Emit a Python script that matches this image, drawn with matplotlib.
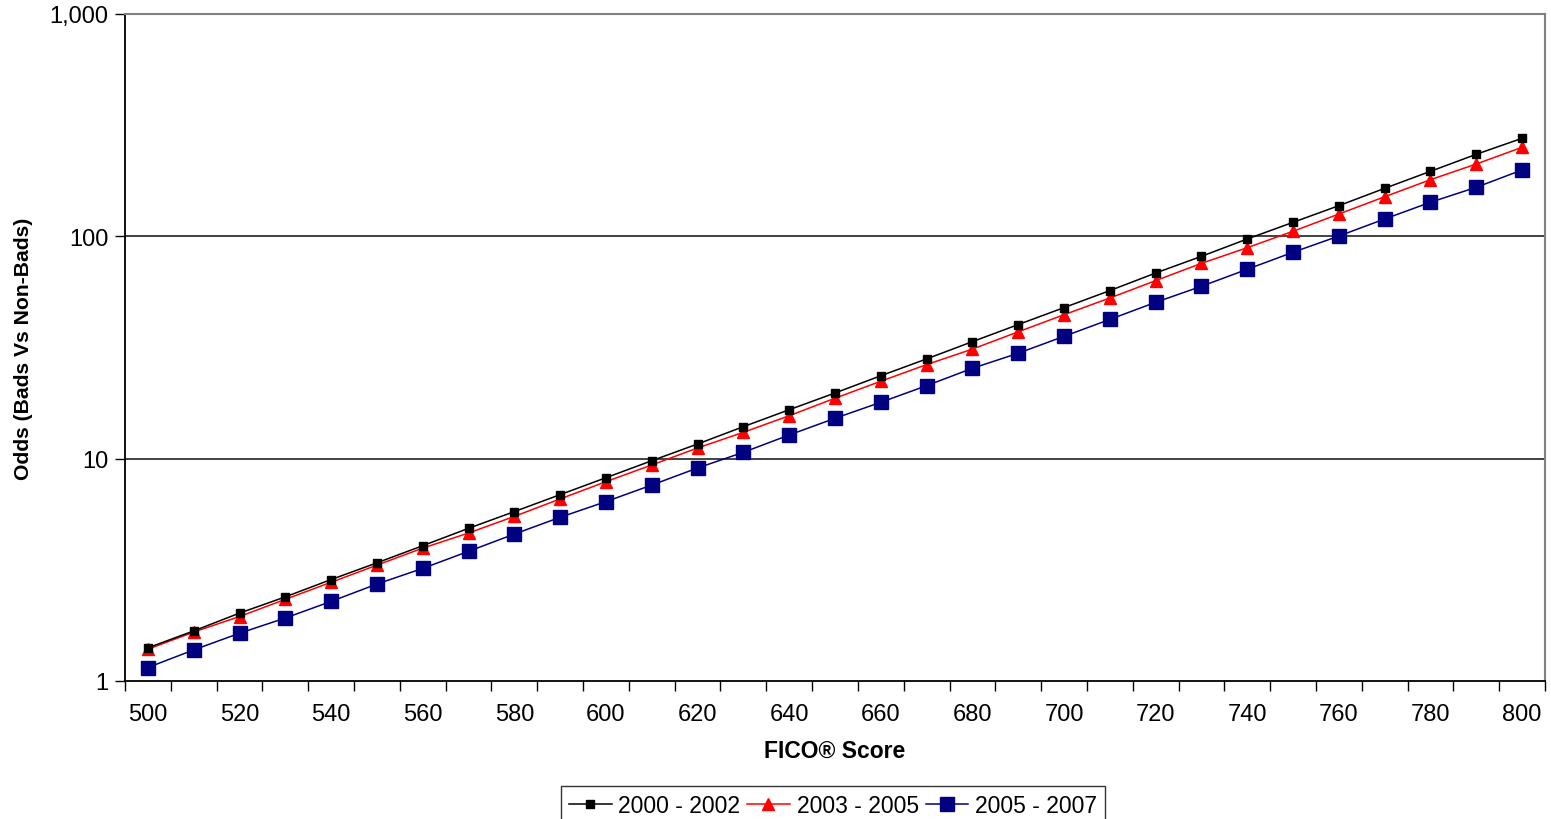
import matplotlib
matplotlib.use("Agg")
import matplotlib.pyplot as plt
from matplotlib.ticker import FixedLocator, NullLocator, FuncFormatter

plt.rcParams["font.family"] = ["Liberation Sans", "DejaVu Sans"]

scores = [500, 510, 520, 530, 540, 550, 560, 570, 580, 590, 600,
          610, 620, 630, 640, 650, 660, 670, 680, 690, 700,
          710, 720, 730, 740, 750, 760, 770, 780, 790, 800]

odds_2000_2002 = [1.41, 1.68, 2.02, 2.39, 2.86, 3.40, 4.06, 4.86, 5.78, 6.89, 8.21,
                  9.79, 11.64, 13.93, 16.6, 19.74, 23.6, 28.1, 33.6, 40.1, 47.8,
                  57.0, 68.4, 81.3, 97.3, 115.6, 137.4, 164.4, 196.1, 233.9, 276.0]
odds_2003_2005 = [1.39, 1.66, 1.95, 2.33, 2.78, 3.32, 3.96, 4.63, 5.50, 6.59, 7.88,
                  9.37, 11.17, 13.14, 15.6, 18.7, 22.3, 26.5, 31.1, 37.2, 44.4,
                  52.8, 63.2, 75.6, 88.9, 105.4, 126.0, 150.7, 179.8, 211.5, 251.5]
odds_2005_2007 = [1.15, 1.38, 1.64, 1.92, 2.28, 2.73, 3.21, 3.83, 4.58, 5.45, 6.41,
                  7.61, 9.08, 10.68, 12.78, 15.19, 17.93, 21.3, 25.5, 29.8, 35.5,
                  42.3, 50.5, 59.6, 71.1, 84.8, 100.3, 119.7, 142.3, 166.2, 198.8]

series_labels = ["2000 - 2002", "2003 - 2005", "2005 - 2007"]
y_ticks = [1, 10, 100, 1000]

fig = plt.figure(figsize=(15.51, 8.20), dpi=100)
ax = fig.add_axes([125 / 1551, 1 - 682 / 820, 1420 / 1551, 667 / 820])

pos = list(range(len(scores)))
ax.plot(pos, odds_2000_2002, color="black", lw=1.1, marker="s", ms=6,
        mfc="black", mec="black", label=series_labels[0], zorder=5)
ax.plot(pos, odds_2003_2005, color="#FF0000", lw=1.1, marker="^", ms=8,
        mfc="#FF0000", mec="#FF0000", label=series_labels[1], zorder=4)
ax.plot(pos, odds_2005_2007, color="#000080", lw=1.1, marker="s", ms=10,
        mfc="#000080", mec="#000080", label=series_labels[2], zorder=3)

ax.set_yscale("log")
ax.set_ylim(1, 1000)
ax.set_xlim(-0.5, len(scores) - 0.5)

# y axis: decades only
ax.yaxis.set_major_locator(FixedLocator(y_ticks))
ax.yaxis.set_minor_locator(NullLocator())
ax.yaxis.set_major_formatter(FuncFormatter(lambda v, p: f"{int(round(v)):,}"))
ax.tick_params(axis="y", which="major", direction="out", length=7, width=1,
               labelsize=17, pad=5, color="black")

# x axis: labels on every other category, ticks on category boundaries
label_pos = pos[::2]
ax.xaxis.set_major_locator(FixedLocator(label_pos))
ax.set_xticklabels([str(scores[i]) for i in label_pos])
ax.xaxis.set_minor_locator(FixedLocator([i - 0.5 for i in range(len(scores) + 1)]))
ax.tick_params(axis="x", which="major", length=0, labelsize=17, pad=16)
ax.tick_params(axis="x", which="minor", direction="out", length=7, width=1, color="black")

for v in y_ticks[1:3]:
    ax.axhline(v, color="#333333", lw=1.3, zorder=1)

for side in ("left", "bottom"):
    ax.spines[side].set_color("black")
    ax.spines[side].set_linewidth(1.3)
for side in ("top", "right"):
    ax.spines[side].set_color("#808080")
    ax.spines[side].set_linewidth(1.5)

ax.set_xlabel("FICO® Score", fontsize=16.5, fontweight="bold")
ax.xaxis.set_label_coords(0.5, -(740 - 682) / 667)
ax.set_ylabel("Odds (Bads Vs Non-Bads)", fontsize=15.2, fontweight="bold")
ax.yaxis.set_label_coords(-(125 - 33) / 1420, 0.5)

leg = fig.legend(loc="upper center", bbox_to_anchor=(833 / 1551, 1 - 787 / 820), ncol=3,
                 frameon=True, fancybox=False, fontsize=16.5, handlelength=1.85,
                 handletextpad=0.3, columnspacing=0.3, borderpad=0.35,
                 borderaxespad=0)
leg.get_frame().set_edgecolor("black")
leg.get_frame().set_linewidth(1.0)

fig.savefig("out.png", dpi=100)
